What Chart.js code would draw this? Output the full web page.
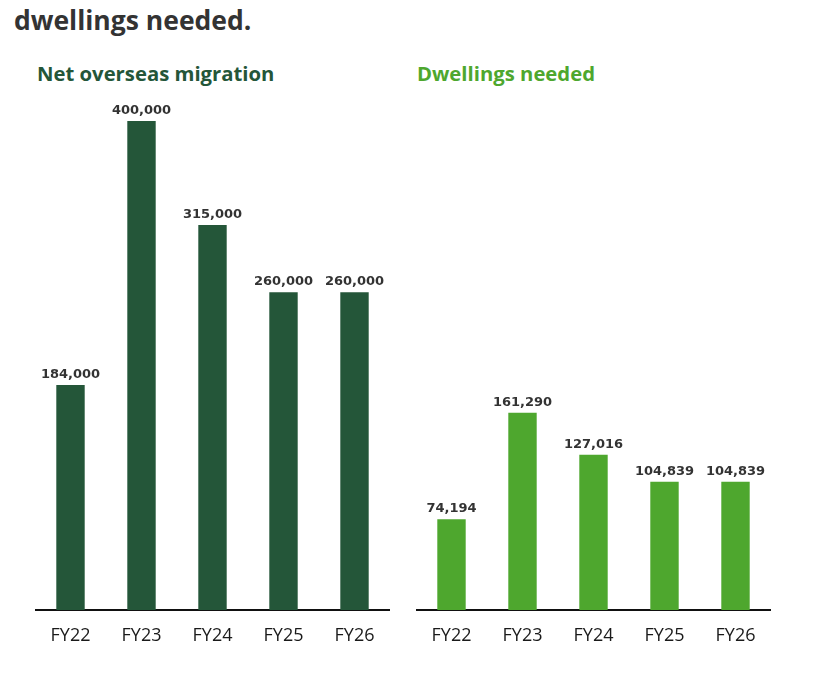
<!DOCTYPE html>
<html>
<head>
<meta charset="utf-8">
<script src="https://cdn.jsdelivr.net/npm/chart.js@4.4.1/dist/chart.umd.min.js"></script>
<style>
    body { margin: 0; background: #fff; width: 824px; height: 675px; overflow: hidden; position: relative; }
    .titulo { position: absolute; font-family: 'Open Sans', sans-serif; font-weight: bold; line-height: 1; white-space: nowrap; }
    .grafica { position: absolute; }
</style>
</head>
<body>
<div class="titulo" style="left:14px; top:7px; font-size:26.5px; color:#333;">dwellings needed.</div>
<div class="titulo" style="left:37px; top:63px; font-size:20.3px; color:#245639;">Net overseas migration</div>
<div class="titulo" style="left:417px; top:63px; font-size:20.3px; color:#4ea72e;">Dwellings needed</div>
<div class="grafica" style="left:35px; top:40px; width:355px; height:615px;"><canvas id="graficaMigracion"></canvas></div>
<div class="grafica" style="left:416px; top:40px; width:355px; height:615px;"><canvas id="graficaViviendas"></canvas></div>
<script>
var categorias = ["FY22", "FY23", "FY24", "FY25", "FY26"];
var migracion = [184000, 400000, 315000, 260000, 260000];
var viviendas = [74194, 161290, 127016, 104839, 104839];
var maxEje = 450000;

// etiquetas de valor encima de cada barra
var etiquetasPlugin = {
    id: "etiquetas",
    afterDatasetsDraw: function (chart) {
        var ctx = chart.ctx;
        var meta = chart.getDatasetMeta(0);
        var datos = chart.data.datasets[0].data;
        ctx.save();
        ctx.font = "bold 13px 'DejaVu Sans'";
        ctx.fillStyle = "#333";
        ctx.textAlign = "center";
        ctx.textBaseline = "alphabetic";
        meta.data.forEach(function (barra, i) {
            ctx.fillText(datos[i].toLocaleString("en-US"), barra.x, barra.y - 7);
        });
        ctx.restore();
    }
};

function crearGrafica(id, valores, color) {
    var ctx = document.getElementById(id).getContext("2d");
    return new Chart(ctx, {
        type: "bar",
        data: {
            labels: categorias,
            datasets: [{
                data: valores,
                backgroundColor: color,
                borderWidth: 0,
                categoryPercentage: 1,
                barPercentage: 0.4
            }]
        },
        options: {
            responsive: true,
            maintainAspectRatio: false,
            animation: false,
            layout: { padding: { top: 20, left: 0, right: 0, bottom: 0 } },
            plugins: { legend: { display: false }, tooltip: { enabled: false } },
            scales: {
                x: {
                    grid: { display: false, drawTicks: false },
                    border: { display: true, color: "#111", width: 2 },
                    ticks: { color: "#1a1a1a", font: { family: "'Open Sans'", size: 18 }, padding: 15 },
                    afterFit: function (escala) { escala.height = 45; }
                },
                y: {
                    display: false,
                    min: 0,
                    max: maxEje
                }
            }
        },
        plugins: [etiquetasPlugin]
    });
}

crearGrafica("graficaMigracion", migracion, "#245639");
crearGrafica("graficaViviendas", viviendas, "#4ea72e");
</script>
</body>
</html>
